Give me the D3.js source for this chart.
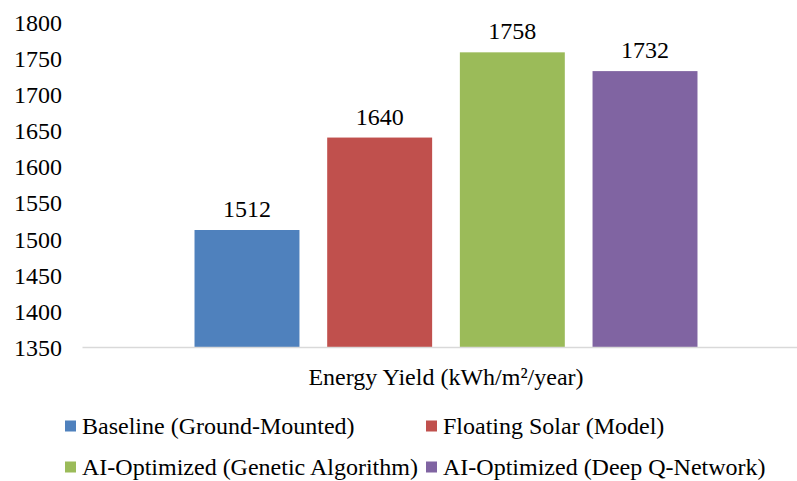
<!DOCTYPE html>
<html>
<head>
<meta charset="utf-8">
<script src="https://cdn.jsdelivr.net/npm/d3@7"></script>
<style>
  html, body { margin: 0; padding: 0; background: #fff; }
  svg { display: block; }
</style>
</head>
<body>
<svg id="chart" width="797" height="481"></svg>
<script>
// Energy yield comparison (single category, four approaches)
const categories = ["Energy Yield (kWh/m²/year)"];
const seriesNames = [
  "Baseline (Ground-Mounted)",
  "Floating Solar (Model)",
  "AI-Optimized (Genetic Algorithm)",
  "AI-Optimized (Deep Q-Network)"
];
const seriesValues = [1512, 1640, 1758, 1732];
const seriesColors = ["#4F81BD", "#C0504D", "#9BBB59", "#8064A2"];
const yTicks = [1350, 1400, 1450, 1500, 1550, 1600, 1650, 1700, 1750, 1800];

const svg = d3.select("#chart");
const fontSize = 24;
const serif = '"Liberation Serif", "Times New Roman", serif';

// Plot area
const plot = { left: 82, right: 810, top: 22, bottom: 347 };

const y = d3.scaleLinear().domain([1350, 1800]).range([plot.bottom, plot.top]);

const x0 = d3.scaleBand()
  .domain(categories)
  .range([plot.left, plot.right])
  .paddingInner(0)
  .paddingOuter(0.2237);

const x1 = d3.scaleBand()
  .domain(seriesNames)
  .range([0, x0.bandwidth()])
  .paddingInner(0.209)
  .paddingOuter(0);

function styleText(sel) {
  sel.style("font-family", serif)
    .style("font-size", fontSize + "px")
    .attr("fill", "#000");
}

// Y axis tick labels (no axis line, no tick marks)
const yAxis = d3.axisLeft(y).tickValues(yTicks).tickFormat(d3.format("d")).tickSize(0).tickPadding(0);
const yG = svg.append("g")
  .attr("transform", `translate(62,0)`)
  .call(yAxis);
yG.select(".domain").remove();
yG.selectAll("text").attr("dy", "0.35em").call(styleText);

// Bars
const group = svg.append("g")
  .selectAll("g")
  .data(categories)
  .join("g")
  .attr("transform", d => `translate(${x0(d)},0)`);

const rows = seriesNames.map((name, i) => ({ name, value: seriesValues[i], color: seriesColors[i] }));

group.selectAll("rect")
  .data(rows)
  .join("rect")
  .attr("x", d => x1(d.name))
  .attr("y", d => y(d.value))
  .attr("width", x1.bandwidth())
  .attr("height", d => y(1350) - y(d.value))
  .attr("fill", d => d.color);

// Value labels above bars
group.selectAll("text.value")
  .data(rows)
  .join("text")
  .attr("class", "value")
  .attr("x", d => x1(d.name) + x1.bandwidth() / 2)
  .attr("y", d => y(d.value) - 13)
  .attr("text-anchor", "middle")
  .text(d => d.value)
  .call(styleText);

// Category axis line and label
const xAxis = d3.axisBottom(x0).tickSize(0).tickPadding(0);
const xG = svg.append("g")
  .attr("transform", `translate(0,${plot.bottom})`)
  .call(xAxis);
xG.select(".domain").attr("stroke", "#D9D9D9").attr("stroke-width", 1.3);
xG.selectAll("text").attr("dy", "38").call(styleText);

// Legend: two columns, two rows
const legendCols = [65, 426];
const legendRows = [426, 467];
const legend = svg.append("g");
rows.forEach((d, i) => {
  const cx = legendCols[i % 2];
  const cy = legendRows[Math.floor(i / 2)];
  legend.append("rect")
    .attr("x", cx)
    .attr("y", cy - 5.5)
    .attr("width", 11)
    .attr("height", 11)
    .attr("fill", d.color);
  legend.append("text")
    .attr("x", cx + 17)
    .attr("y", cy)
    .attr("dy", "0.35em")
    .text(d.name)
    .call(styleText);
});
</script>
</body>
</html>
